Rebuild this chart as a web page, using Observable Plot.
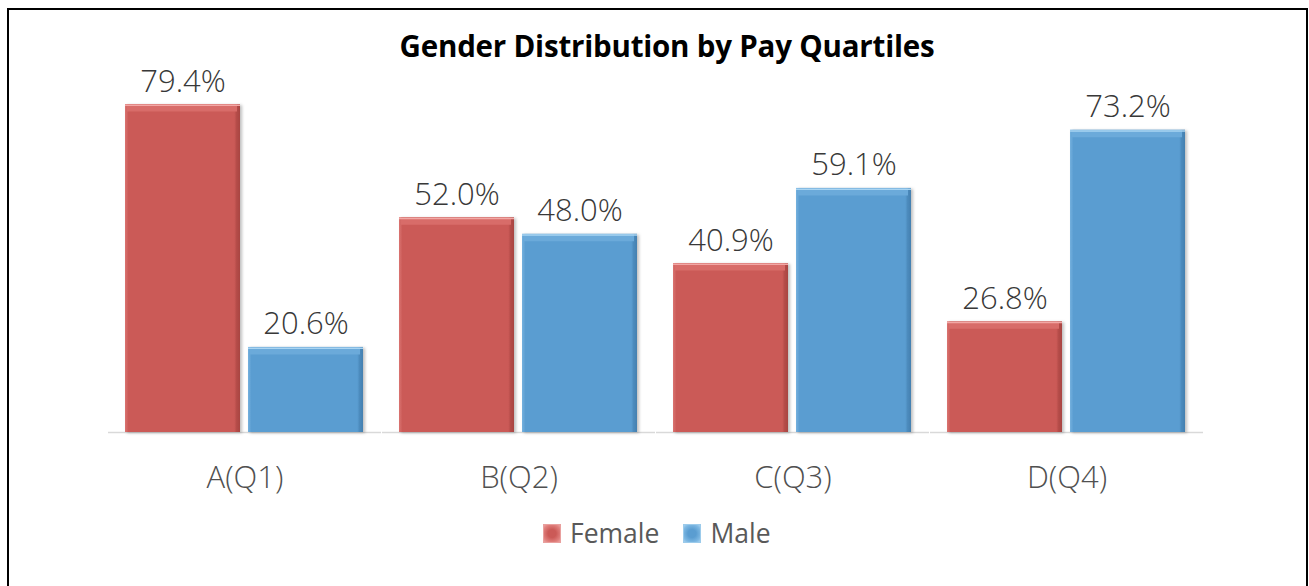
<!DOCTYPE html>
<html>
<head>
<meta charset="utf-8">
<script src="https://cdn.jsdelivr.net/npm/d3@7"></script>
<script src="https://cdn.jsdelivr.net/npm/@observablehq/plot@0.6"></script>
<style>
  html, body { margin: 0; padding: 0; background: #fff; }
  #wrap { position: relative; width: 1309px; height: 586px; overflow: hidden; font-family: "Open Sans", sans-serif; }
  #frame { position: absolute; left: 7px; top: 8px; width: 1297px; height: 700px; border: 2px solid #000; box-sizing: content-box; }
  #title { position: absolute; left: 317px; top: 25px; width: 700px; text-align: center; font-weight: bold; font-size: 29.5px; color: #000; letter-spacing: -0.2px; }
  #chart { position: absolute; left: 0; top: 0; }
  #legend { position: absolute; left: 543px; top: 515px; display: flex; align-items: center; font-size: 26.5px; color: #595959; }
  #legend .sw { width: 18px; height: 19px; margin-right: 9px; box-sizing: border-box; }
  #legend .item { display: flex; align-items: center; margin-right: 24px; }
  g[aria-label="bar"] rect { filter: drop-shadow(2px 1px 1.5px rgba(0,0,0,0.25)); }
</style>
</head>
<body>
<svg width="0" height="0" style="position:absolute">
  <defs>
    <linearGradient id="gF" x1="0" x2="1" y1="0" y2="0">
      <stop offset="0" stop-color="#DA7471"/>
      <stop offset="0.03" stop-color="#CB5A57"/>
      <stop offset="0.95" stop-color="#CB5A57"/>
      <stop offset="0.97" stop-color="#B54C49"/>
      <stop offset="1" stop-color="#A84542"/>
    </linearGradient>
    <linearGradient id="gM" x1="0" x2="1" y1="0" y2="0">
      <stop offset="0" stop-color="#75B1DE"/>
      <stop offset="0.03" stop-color="#5A9DD1"/>
      <stop offset="0.95" stop-color="#5A9DD1"/>
      <stop offset="0.97" stop-color="#4C8BBD"/>
      <stop offset="1" stop-color="#4480B0"/>
    </linearGradient>
  </defs>
</svg>
<div id="wrap">
  <div id="frame"></div>
  <div id="chart"></div>
  <div id="title">Gender Distribution by Pay Quartiles</div>
  <div id="legend"></div>
</div>
<script>
const categories = ["A(Q1)", "B(Q2)", "C(Q3)", "D(Q4)"];
const series = ["Female", "Male"];
const female = [79.4, 52.0, 40.9, 26.8];
const male = [20.6, 48.0, 59.1, 73.2];

const seriesValues = {Female: female, Male: male};
const data = [];
categories.forEach((c, i) => {
  series.forEach(s => data.push({category: c, gender: s, value: seriesValues[s][i]}));
});

const fill = {Female: "url(#gF)", Male: "url(#gM)"};
const bevel = {Female: "#D86C69", Male: "#6BAADA"};
const hilite = {Female: "#F2A7A5", Male: "#A8D4F2"};

const marks = [
  Plot.ruleY([0], {stroke: "#D9D9D9", strokeWidth: 1.5, insetLeft: -17, insetRight: -17})
];
series.forEach(s => {
  const d = data.filter(r => r.gender === s);
  marks.push(Plot.barY(d, {fx: "category", x: "gender", y: "value", fill: fill[s]}));
  marks.push(Plot.tickY(d, {fx: "category", x: "gender", y: "value", stroke: bevel[s], strokeWidth: 7, dy: 3.5, insetLeft: 2, insetRight: 3}));
  marks.push(Plot.tickY(d, {fx: "category", x: "gender", y: "value", stroke: hilite[s], strokeWidth: 1.5, dy: 0.75}));
});
marks.push(Plot.text(data, {
  fx: "category", x: "gender", y: "value",
  text: d => d.value.toFixed(1) + "%",
  lineAnchor: "bottom", dy: -13, fontSize: 31, fill: "#383838",
  fontFamily: "Open Sans", fontWeight: 300
}));
marks.push(Plot.axisFx({anchor: "bottom", tickSize: 0, tickPadding: 33, fontSize: 31, color: "#505050", label: null, fontFamily: "Open Sans", fontWeight: 300}));

const chart = Plot.plot({
  width: 1309,
  height: 586,
  marginLeft: 108,
  marginRight: 106,
  marginTop: 101.6,
  marginBottom: 154,
  style: {fontFamily: "Open Sans", background: "transparent", overflow: "visible"},
  fx: {domain: categories, paddingInner: 0.127, paddingOuter: 0.055, label: null},
  x: {domain: series, paddingInner: 0.0645, paddingOuter: 0, axis: null},
  y: {domain: [0, 80], axis: null},
  marks
});
document.getElementById("chart").appendChild(chart);

const legend = document.getElementById("legend");
const swatchBg = {
  Female: "radial-gradient(circle at 50% 50%, #CB5A57 0 35%, #E07F7C 75%, #EBA3A1 100%)",
  Male: "radial-gradient(circle at 50% 50%, #5A9DD1 0 35%, #7CB7E2 75%, #A6D1F0 100%)"
};
series.forEach(s => {
  const item = document.createElement("div");
  item.className = "item";
  const sw = document.createElement("div");
  sw.className = "sw";
  sw.style.background = swatchBg[s];
  sw.style.border = "1px solid " + (s === "Female" ? "#E9A09E" : "#9CCBEB");
  const t = document.createElement("span");
  t.textContent = s;
  item.appendChild(sw);
  item.appendChild(t);
  legend.appendChild(item);
});
</script>
</body>
</html>
